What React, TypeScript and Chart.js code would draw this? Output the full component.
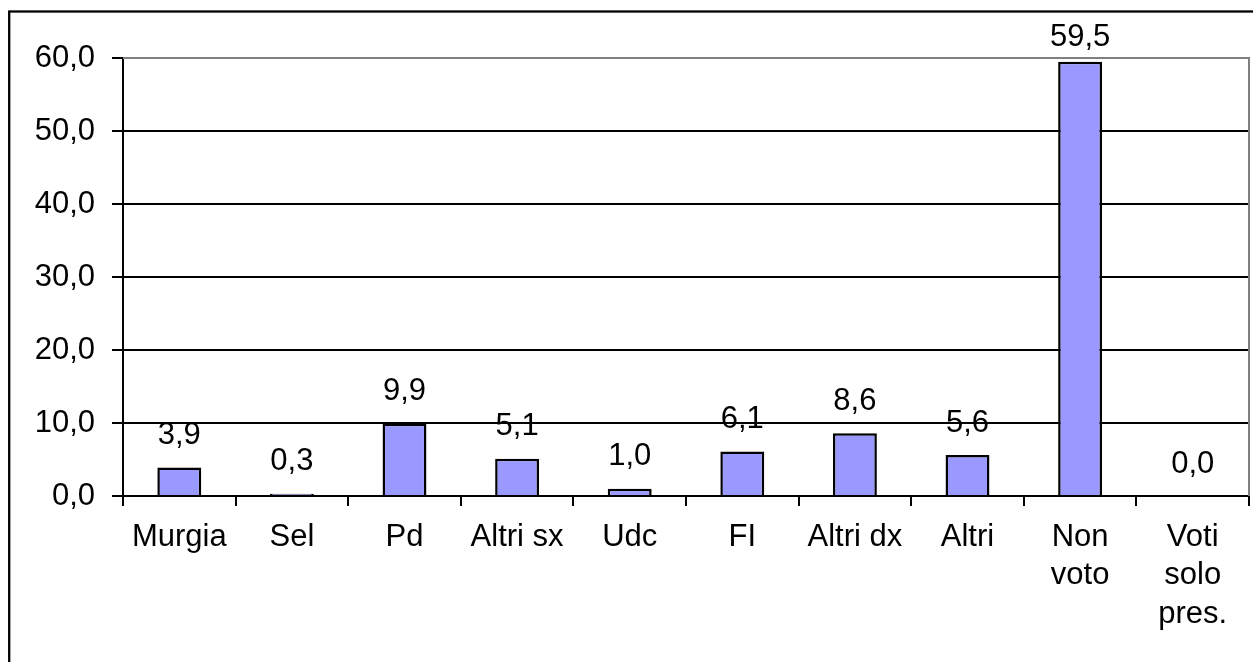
import React, { useEffect, useRef } from "react";
import { Chart, registerables } from "chart.js";

Chart.register(...registerables);

const categories: (string | string[])[] = [
  "Murgia",
  "Sel",
  "Pd",
  "Altri sx",
  "Udc",
  "FI",
  "Altri dx",
  "Altri",
  ["Non", "voto"],
  ["Voti", "solo", "pres."],
];
const values: number[] = [3.9, 0.3, 9.9, 5.1, 1.0, 6.1, 8.6, 5.6, 59.5, 0.0];
const yTicks: number[] = [0, 10, 20, 30, 40, 50, 60];

const FONT = "'Liberation Sans', Arial, sans-serif";
const fmt = (v: number) => v.toFixed(1).replace(".", ",");

const framePlugin = {
  id: "frame",
  beforeDraw(chart: any) {
    const ctx = chart.ctx;
    ctx.save();
    ctx.fillStyle = "#ffffff";
    ctx.fillRect(0, 0, chart.width, chart.height);
    ctx.strokeStyle = "#000000";
    ctx.lineWidth = 2.3;
    ctx.strokeRect(9.2, 11.5, chart.width + 50, chart.height + 50);
    ctx.restore();
  },
  beforeDatasetsDraw(chart: any) {
    const { ctx, chartArea } = chart;
    ctx.save();
    ctx.strokeStyle = "#808080";
    ctx.lineWidth = 2;
    ctx.beginPath();
    ctx.moveTo(chartArea.left, chartArea.top);
    ctx.lineTo(chartArea.right, chartArea.top);
    ctx.lineTo(chartArea.right, chartArea.bottom);
    ctx.stroke();
    ctx.restore();
  },
  afterDatasetsDraw(chart: any) {
    const ctx = chart.ctx;
    const meta = chart.getDatasetMeta(0);
    const data = chart.data.datasets[0].data as number[];
    ctx.save();
    ctx.font = `31px ${FONT}`;
    ctx.fillStyle = "#000000";
    ctx.textAlign = "center";
    ctx.textBaseline = "middle";
    meta.data.forEach((bar: any, i: number) => {
      const y = Math.max(bar.y - 32, 37);
      ctx.fillText(fmt(data[i]), bar.x, y);
    });
    ctx.restore();
  },
};

export default function App() {
  const ref = useRef<HTMLCanvasElement | null>(null);
  useEffect(() => {
    if (!ref.current) return;
    const chart = new Chart(ref.current, {
      type: "bar",
      data: {
        labels: categories,
        datasets: [
          {
            data: values,
            backgroundColor: "#9999FF",
            borderColor: "#000000",
            borderWidth: 2.5,
            categoryPercentage: 0.39,
            barPercentage: 1,
          },
        ],
      },
      plugins: [framePlugin],
      options: {
        animation: false,
        responsive: false,
        devicePixelRatio: 1,
        layout: { padding: { left: 0, top: 58, right: 4, bottom: 0 } },
        plugins: {
          legend: { display: false },
          tooltip: { enabled: false },
          title: { display: false },
        },
        scales: {
          x: {
            offset: true,
            grid: {
              offset: true,
              drawOnChartArea: false,
              drawTicks: true,
              tickLength: 10,
              color: "#000000",
              lineWidth: 2,
            },
            border: { color: "#000000", width: 2 },
            ticks: {
              color: "#000000",
              font: { family: FONT, size: 31, lineHeight: 1.24 },
              padding: 12,
              maxRotation: 0,
              autoSkip: false,
            },
            afterFit(scale: any) {
              scale.height = 166;
            },
          },
          y: {
            min: 0,
            max: 60,
            afterBuildTicks(scale: any) {
              scale.ticks = yTicks.map((v) => ({ value: v }));
            },
            grid: {
              color: (c: any) => (c.tick && c.tick.value === 60 ? "#808080" : "#000000"),
              tickColor: "#000000",
              lineWidth: 2,
              tickLength: 11,
            },
            border: { color: "#000000", width: 2 },
            ticks: {
              color: "#000000",
              font: { family: FONT, size: 31 },
              padding: 17,
              callback: (v: any) => fmt(Number(v)),
            },
            afterFit(scale: any) {
              scale.width = 123;
            },
          },
        },
      },
    });
    return () => chart.destroy();
  }, []);
  return (
    <div style={{ position: "absolute", left: 0, top: 0, width: 1253, height: 662, overflow: "hidden" }}>
      <canvas ref={ref} width={1253} height={662} style={{ display: "block" }} />
    </div>
  );
}
